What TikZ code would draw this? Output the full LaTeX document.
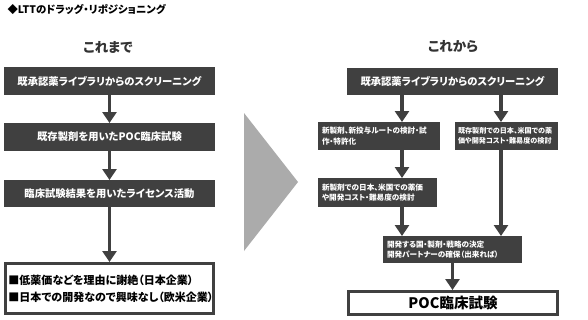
\documentclass[tikz,border=0pt]{standalone}
\usepackage{fontspec}
\setmainfont{Noto Sans CJK JP}[RawFeature=+palt]
\usetikzlibrary{arrows.meta,positioning}

\definecolor{boxgray}{HTML}{404040}
\definecolor{trigray}{HTML}{ABABAB}
\definecolor{headgray}{HTML}{333333}

\tikzset{
  darkbox/.style={fill=boxgray, text=white, inner sep=0pt, outer sep=0pt,
    font=\bfseries\fontsize{10.3}{11}\selectfont},
  smallbox/.style={fill=boxgray, text=white, inner xsep=4pt, inner ysep=0pt, outer sep=0pt,
    align=left, font=\bfseries\fontsize{7.6}{10.5}\selectfont},
  whitebox/.style={draw=boxgray, line width=3pt, fill=white},
  arr/.style={draw=boxgray, line width=3.5pt, -{Triangle[width=14pt,length=11pt]}},
  heading/.style={text=headgray, font=\bfseries\fontsize{13.5}{15}\selectfont}
}

\begin{document}
\begin{tikzpicture}[x=1pt,y=-1pt]
  \useasboundingbox[fill=white] (0,0) rectangle (588,319);
  \node[anchor=west, text=black, font=\bfseries\fontsize{10.4}{11}\selectfont] (title) at (4,9) {◆LTTのドラッグ・リポジショニング};

  \node[heading] (before) at (108,47) {これまで};
  \node[heading] (after) at (453,47) {これから};

  \node[darkbox, minimum width=211, minimum height=28] (l1) at (109.5,81) {既承認薬ライブラリからのスクリーニング};
  \node[darkbox, minimum width=211, minimum height=28] (l2) at (109.5,137) {既存製剤を用いたPOC臨床試験};
  \node[darkbox, minimum width=211, minimum height=27] (l3) at (109.5,193.5) {臨床試験結果を用いたライセンス活動};
  \node[whitebox, inner xsep=3pt, text width=202, minimum height=50, align=left,
        font=\bfseries\fontsize{11}{17}\selectfont] (l4) at (109.5,288.5)
        {■低薬価などを理由に謝絶（日本企業）\\■日本での開発なので興味なし（欧米企業）};

  \draw[arr] (l1) -- (l2);
  \draw[arr] (l2) -- (l3);
  \draw[arr] (l3) -- (l4);

  \fill[trigray] (244,113) -- (298,182) -- (244,251) -- cycle;

  \node[darkbox, minimum width=211, minimum height=27] (r1) at (452.5,81.5) {既承認薬ライブラリからのスクリーニング};
  \node[smallbox, text width=114, minimum height=28] (r2a) at (379,136) {新製剤、新投与ルートの検討・試\\作・特許化};
  \node[smallbox, inner xsep=3pt, text width=97, minimum height=28,
        font=\bfseries\fontsize{7.1}{10.5}\selectfont] (r2b) at (506.5,136) {既存製剤での日本、米国での薬\\価や開発コスト・難易度の検討};
  \node[smallbox, text width=111, minimum height=29] (r3) at (377.5,192.5) {新製剤での日本、米国での薬価\\や開発コスト・難易度の検討};
  \node[smallbox, text width=131, minimum height=27] (r4) at (452.5,249.5) {開発する国・製剤・戦略の決定\\開発パートナーの確保（出来れば）};
  \node[whitebox, minimum width=209, minimum height=23,
        font=\bfseries\fontsize{14.5}{16}\selectfont] (r5) at (453,303) {POC臨床試験};

  \coordinate (xa) at (402,0);
  \coordinate (xb) at (501,0);
  \draw[arr] (r1.south -| xa) -- (r2a.north -| xa);
  \draw[arr] (r1.south -| xb) -- (r2b.north -| xb);
  \draw[arr] (r2a.south -| xa) -- (r3.north -| xa);
  \draw[arr] (r3.south -| xa) -- (r4.north -| xa);
  \draw[arr] (r2b.south -| xb) -- (r4.north -| xb);
  \draw[arr] (r4.south) -- (r4.south |- r5.north);
\end{tikzpicture}
\end{document}
